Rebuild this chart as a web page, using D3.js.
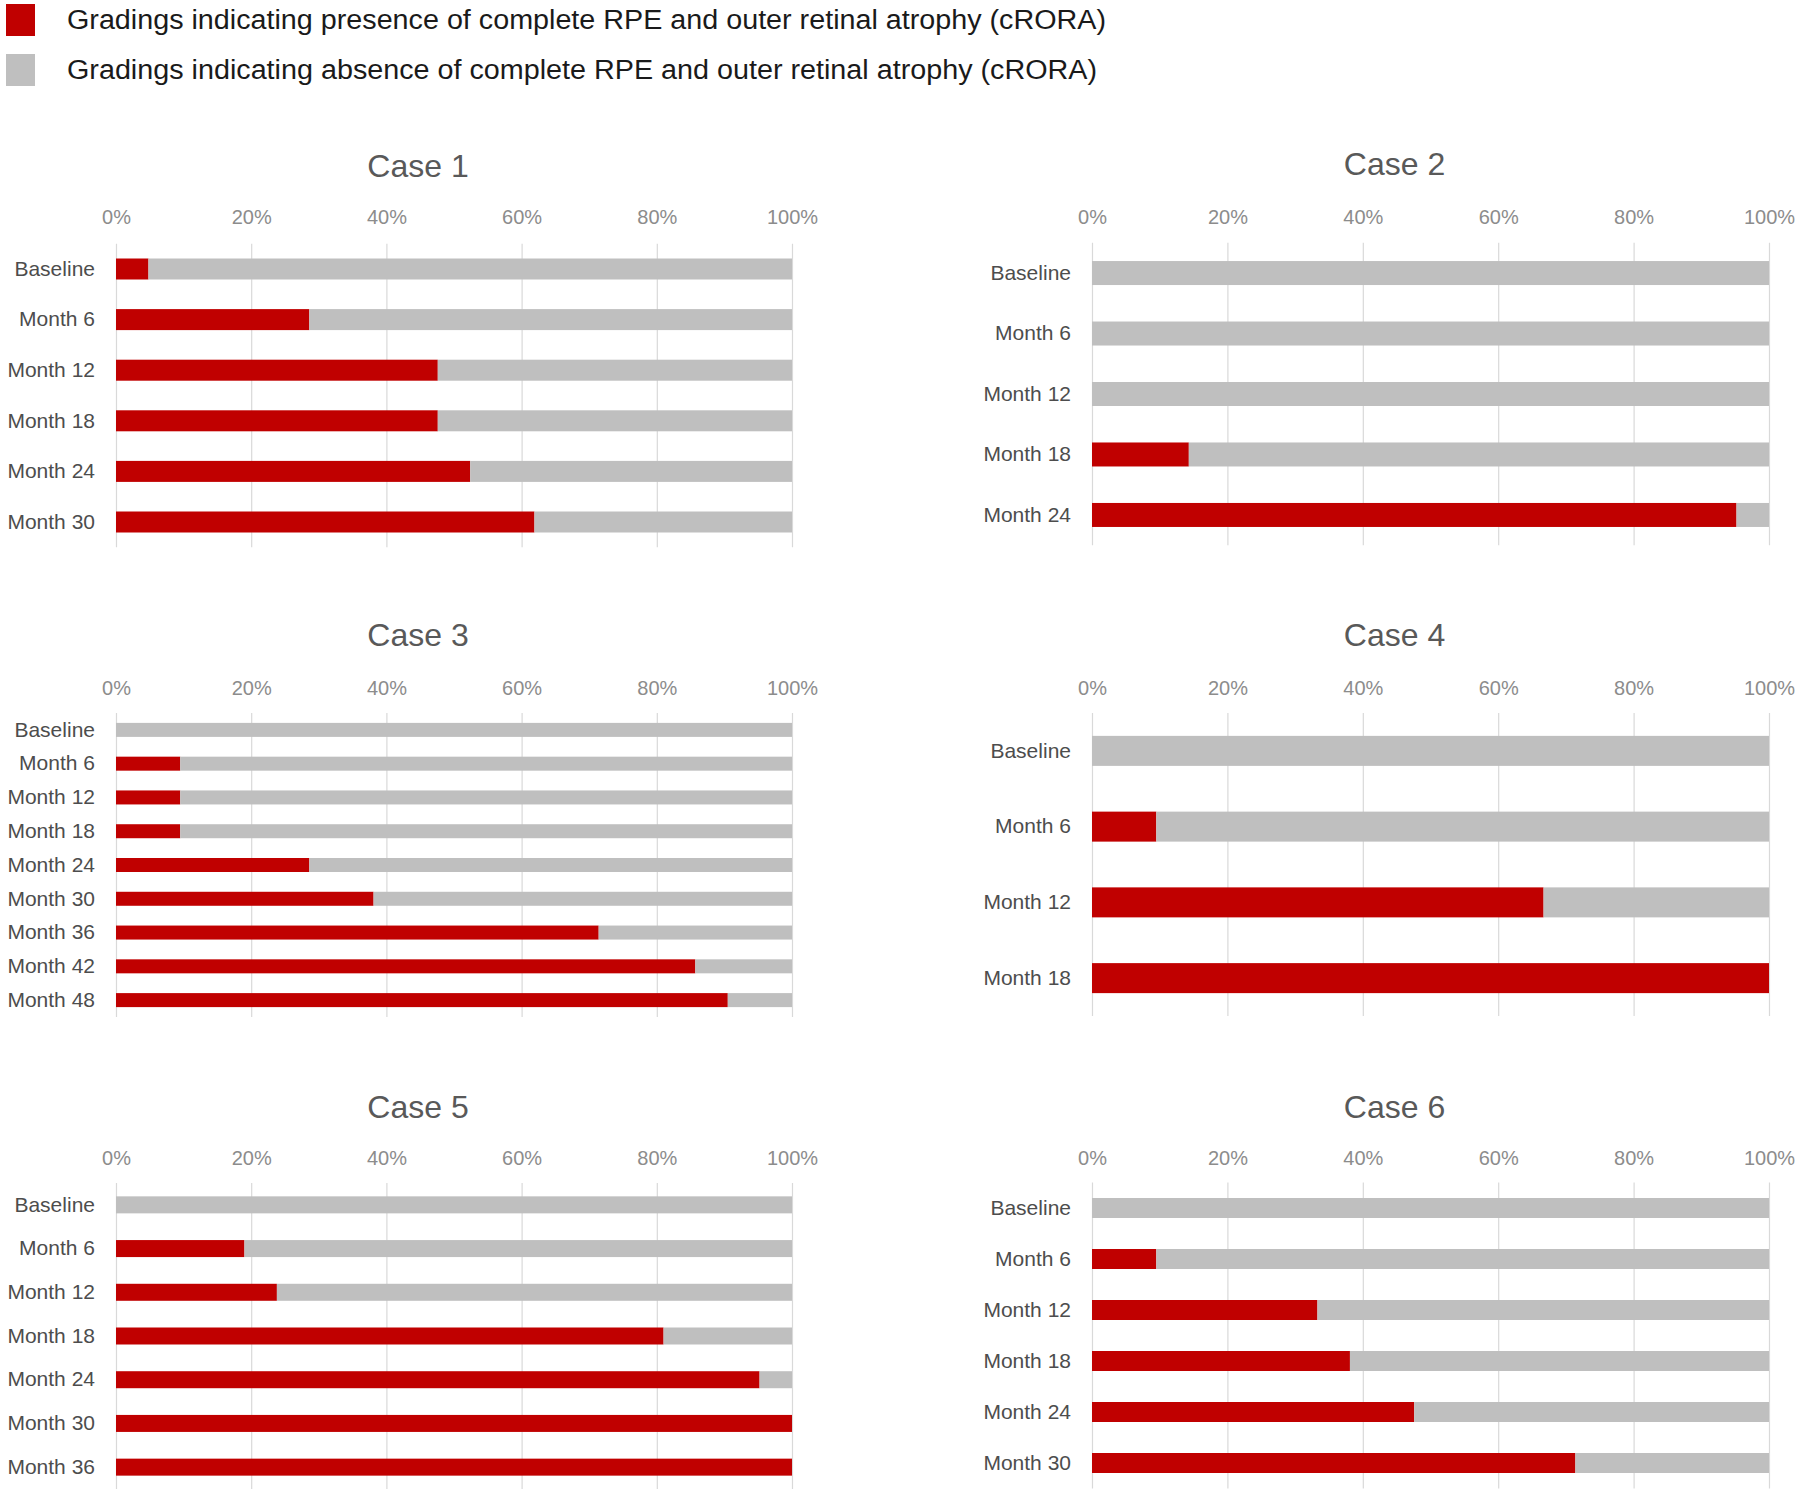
<!DOCTYPE html>
<html>
<head>
<meta charset="utf-8">
<script src="https://cdn.jsdelivr.net/npm/d3@7"></script>
<style>
  html, body { margin: 0; padding: 0; background: #ffffff; }
  svg { display: block; font-family: "Liberation Sans", Arial, sans-serif; }
</style>
</head>
<body>
<svg id="chart" width="1800" height="1495"></svg>
<script>
// ---------------- DATA ----------------
const legendLabels = [
  "Gradings indicating presence of complete RPE and outer retinal atrophy (cRORA)",
  "Gradings indicating absence of complete RPE and outer retinal atrophy (cRORA)"
];
const caseTitles = ["Case 1", "Case 2", "Case 3", "Case 4", "Case 5", "Case 6"];
const tickValues = [0, 20, 40, 60, 80, 100];

const categories1 = ["Baseline", "Month 6", "Month 12", "Month 18", "Month 24", "Month 30"];
const present1 = [4.8, 28.6, 47.6, 47.6, 52.4, 61.9];
const absent1  = [95.2, 71.4, 52.4, 52.4, 47.6, 38.1];

const categories2 = ["Baseline", "Month 6", "Month 12", "Month 18", "Month 24"];
const present2 = [0, 0, 0, 14.3, 95.2];
const absent2  = [100, 100, 100, 85.7, 4.8];

const categories3 = ["Baseline", "Month 6", "Month 12", "Month 18", "Month 24", "Month 30", "Month 36", "Month 42", "Month 48"];
const present3 = [0, 9.5, 9.5, 9.5, 28.6, 38.1, 71.4, 85.7, 90.5];
const absent3  = [100, 90.5, 90.5, 90.5, 71.4, 61.9, 28.6, 14.3, 9.5];

const categories4 = ["Baseline", "Month 6", "Month 12", "Month 18"];
const present4 = [0, 9.5, 66.7, 100];
const absent4  = [100, 90.5, 33.3, 0];

const categories5 = ["Baseline", "Month 6", "Month 12", "Month 18", "Month 24", "Month 30", "Month 36"];
const present5 = [0, 19.0, 23.8, 81.0, 95.2, 100, 100];
const absent5  = [100, 81.0, 76.2, 19.0, 4.8, 0, 0];

const categories6 = ["Baseline", "Month 6", "Month 12", "Month 18", "Month 24", "Month 30"];
const present6 = [0, 9.5, 33.3, 38.1, 47.6, 71.4];
const absent6  = [100, 90.5, 66.7, 61.9, 52.4, 28.6];

// ---------------- LAYOUT / STYLE ----------------
const RED = "#c00000";
const GRAY = "#bfbfbf";
const GRID = "#d9d9d9";

const panels = [
  { cats: categories1, pres: present1, abs: absent1, x0: 116,  x1: 792,  titleY: 166,  tickY: 217, top: 243.7, bottom: 547.3, barH: 21 },
  { cats: categories2, pres: present2, abs: absent2, x0: 1092, x1: 1769, titleY: 164,  tickY: 217, top: 242.8, bottom: 545.2, barH: 24 },
  { cats: categories3, pres: present3, abs: absent3, x0: 116,  x1: 792,  titleY: 635,  tickY: 688, top: 713,   bottom: 1017,  barH: 14 },
  { cats: categories4, pres: present4, abs: absent4, x0: 1092, x1: 1769, titleY: 635,  tickY: 688, top: 713,   bottom: 1016,  barH: 30 },
  { cats: categories5, pres: present5, abs: absent5, x0: 116,  x1: 792,  titleY: 1107, tickY: 1158, top: 1183, bottom: 1489,  barH: 17 },
  { cats: categories6, pres: present6, abs: absent6, x0: 1092, x1: 1769, titleY: 1107, tickY: 1158, top: 1182.5, bottom: 1488.5, barH: 20 }
];
const legendTextWidths = [1039, 1030];

const svg = d3.select("#chart");

// ---------------- LEGEND ----------------
const legendColors = [RED, GRAY];
const legend = svg.append("g");
legendLabels.forEach((lab, i) => {
  const cy = 20 + i * 50;
  legend.append("rect")
    .attr("x", 6).attr("y", cy - 16).attr("width", 29).attr("height", 32)
    .attr("fill", legendColors[i]);
  legend.append("text")
    .attr("x", 67).attr("y", cy).attr("dy", "0.35em")
    .attr("font-size", 27).attr("fill", "#1a1a1a")
    .attr("textLength", legendTextWidths[i])
    .attr("lengthAdjust", "spacingAndGlyphs")
    .text(lab);
});

// ---------------- PANELS ----------------
panels.forEach((p, idx) => {
  const g = svg.append("g");
  const x = d3.scaleLinear().domain([0, 100]).range([p.x0, p.x1]);
  const step = (p.bottom - p.top) / p.cats.length;
  const pi = 1 - p.barH / step;
  const y = d3.scaleBand().domain(p.cats).range([p.top, p.bottom])
    .paddingInner(pi).paddingOuter(pi / 2);

  // title
  g.append("text")
    .attr("x", (p.x0 + p.x1) / 2 - 36).attr("y", p.titleY).attr("dy", "0.35em")
    .attr("text-anchor", "middle").attr("font-size", 32).attr("fill", "#595959")
    .text(caseTitles[idx]);

  // gridlines
  const grid = g.append("g").attr("transform", `translate(0,${p.top})`)
    .call(d3.axisTop(x).tickValues(tickValues).tickSize(-(p.bottom - p.top)).tickFormat(""));
  grid.select(".domain").remove();
  grid.selectAll("line").attr("stroke", GRID).attr("stroke-width", 1.2);

  // tick labels
  const ax = g.append("g").attr("transform", `translate(0,${p.tickY})`)
    .call(d3.axisTop(x).tickValues(tickValues).tickSize(0).tickFormat(d => d + "%"));
  ax.select(".domain").remove();
  ax.selectAll("text").attr("y", 0).attr("dy", "0.35em")
    .attr("font-size", 20).attr("fill", "#8c8c8c")
    .attr("font-family", "'Liberation Sans', Arial, sans-serif");

  // category labels
  const ay = g.append("g").attr("transform", `translate(${p.x0},0)`)
    .call(d3.axisLeft(y).tickSize(0).tickPadding(21));
  ay.select(".domain").remove();
  ay.selectAll("text").attr("font-size", 21).attr("fill", "#4d4d4d")
    .attr("font-family", "'Liberation Sans', Arial, sans-serif");

  // stacked bars
  const rows = p.cats.map((c, i) => ({ cat: c, present: p.pres[i], absent: p.abs[i] }));
  const stacked = d3.stack().keys(["present", "absent"])(rows);
  const colors = { present: RED, absent: GRAY };
  stacked.forEach(layer => {
    g.append("g").selectAll("rect").data(layer).join("rect")
      .attr("x", d => x(d[0]))
      .attr("width", d => Math.max(0, x(d[1]) - x(d[0])))
      .attr("y", d => y(d.data.cat))
      .attr("height", y.bandwidth())
      .attr("fill", colors[layer.key]);
  });
});
</script>
</body>
</html>
